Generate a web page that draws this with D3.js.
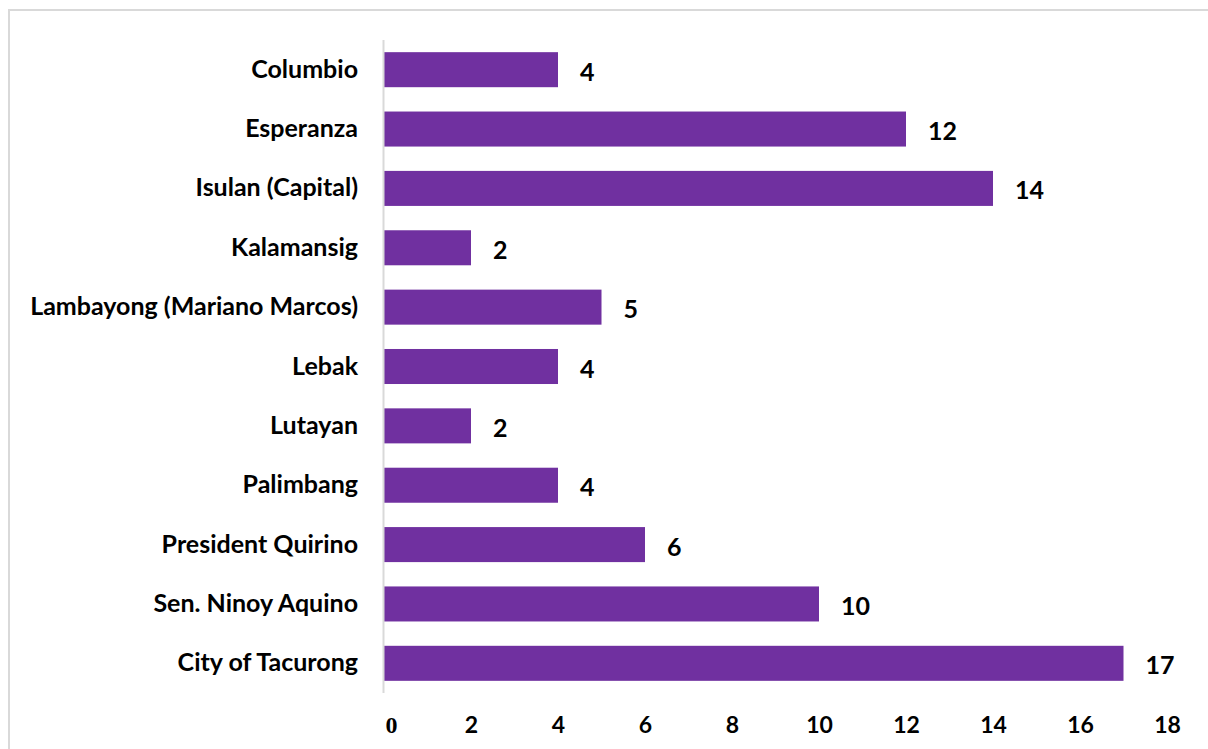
<!DOCTYPE html>
<html>
<head>
<meta charset="utf-8">
<script src="https://cdn.jsdelivr.net/npm/d3@7"></script>
<style>
  html, body { margin: 0; padding: 0; background: #fff; }
  svg { display: block; }
</style>
</head>
<body>
<svg id="chart" width="1208" height="749"></svg>
<script>
// Municipalities of Sultan Kudarat and their counts
const categories = [
  "Columbio", "Esperanza", "Isulan (Capital)", "Kalamansig",
  "Lambayong (Mariano Marcos)", "Lebak", "Lutayan", "Palimbang",
  "President Quirino", "Sen. Ninoy Aquino", "City of Tacurong"
];
const values = [4, 12, 14, 2, 5, 4, 2, 4, 6, 10, 17];
const tickValues = [0, 2, 4, 6, 8, 10, 12, 14, 16, 18];

const svg = d3.select("#chart");
const W = 1208, H = 749;
const font = "Lato, 'Open Sans', sans-serif";

svg.append("rect").attr("width", W).attr("height", H).attr("fill", "#fff");

// chart area border
svg.append("rect")
  .attr("x", 9).attr("y", 10)
  .attr("width", W + 20).attr("height", H + 20)
  .attr("fill", "none").attr("stroke", "#d9d9d9").attr("stroke-width", 2);

const x = d3.scaleLinear().domain([0, 18]).range([384, 1167]);
const y = d3.scaleBand().domain(categories).range([40, 693]).paddingInner(0.41).paddingOuter(0.205);

// bars
svg.append("g").selectAll("rect").data(values).join("rect")
  .attr("x", x(0))
  .attr("y", (d, i) => y(categories[i]))
  .attr("width", d => x(d) - x(0))
  .attr("height", y.bandwidth())
  .attr("fill", "#7030a0");

// vertical category axis line
svg.append("line")
  .attr("x1", 383.5).attr("x2", 383.5)
  .attr("y1", 40).attr("y2", 693)
  .attr("stroke", "#d9d9d9").attr("stroke-width", 2);

// category labels
svg.append("g").selectAll("text").data(categories).join("text")
  .attr("x", 358)
  .attr("y", d => y(d) + y.bandwidth() / 2 + 8)
  .attr("text-anchor", "end")
  .attr("font-family", font).attr("font-weight", "bold").attr("font-size", 25)
  .attr("fill", "#000")
  .text(d => d);

// value labels
svg.append("g").selectAll("text").data(values).join("text")
  .attr("x", d => x(d) + 22)
  .attr("y", (d, i) => y(categories[i]) + y.bandwidth() / 2 + 11)
  .attr("font-family", font).attr("font-weight", "bold").attr("font-size", 25)
  .attr("fill", "#000")
  .text(d => d);

// value axis tick labels
const xAxis = d3.axisBottom(x).tickValues(tickValues).tickSize(0).tickPadding(0);
const gx = svg.append("g").attr("transform", "translate(0,0)").call(xAxis);
gx.select(".domain").remove();
gx.selectAll("text")
  .attr("y", 733)
  .attr("dy", null)
  .attr("font-family", d => d === 0 ? "'Liberation Serif', serif" : font)
  .attr("font-weight", "bold")
  .attr("font-size", d => d === 0 ? 24 : 23)
  .attr("fill", "#000")
  .attr("dx", d => d === 0 ? 7 : 0);
</script>
</body>
</html>
